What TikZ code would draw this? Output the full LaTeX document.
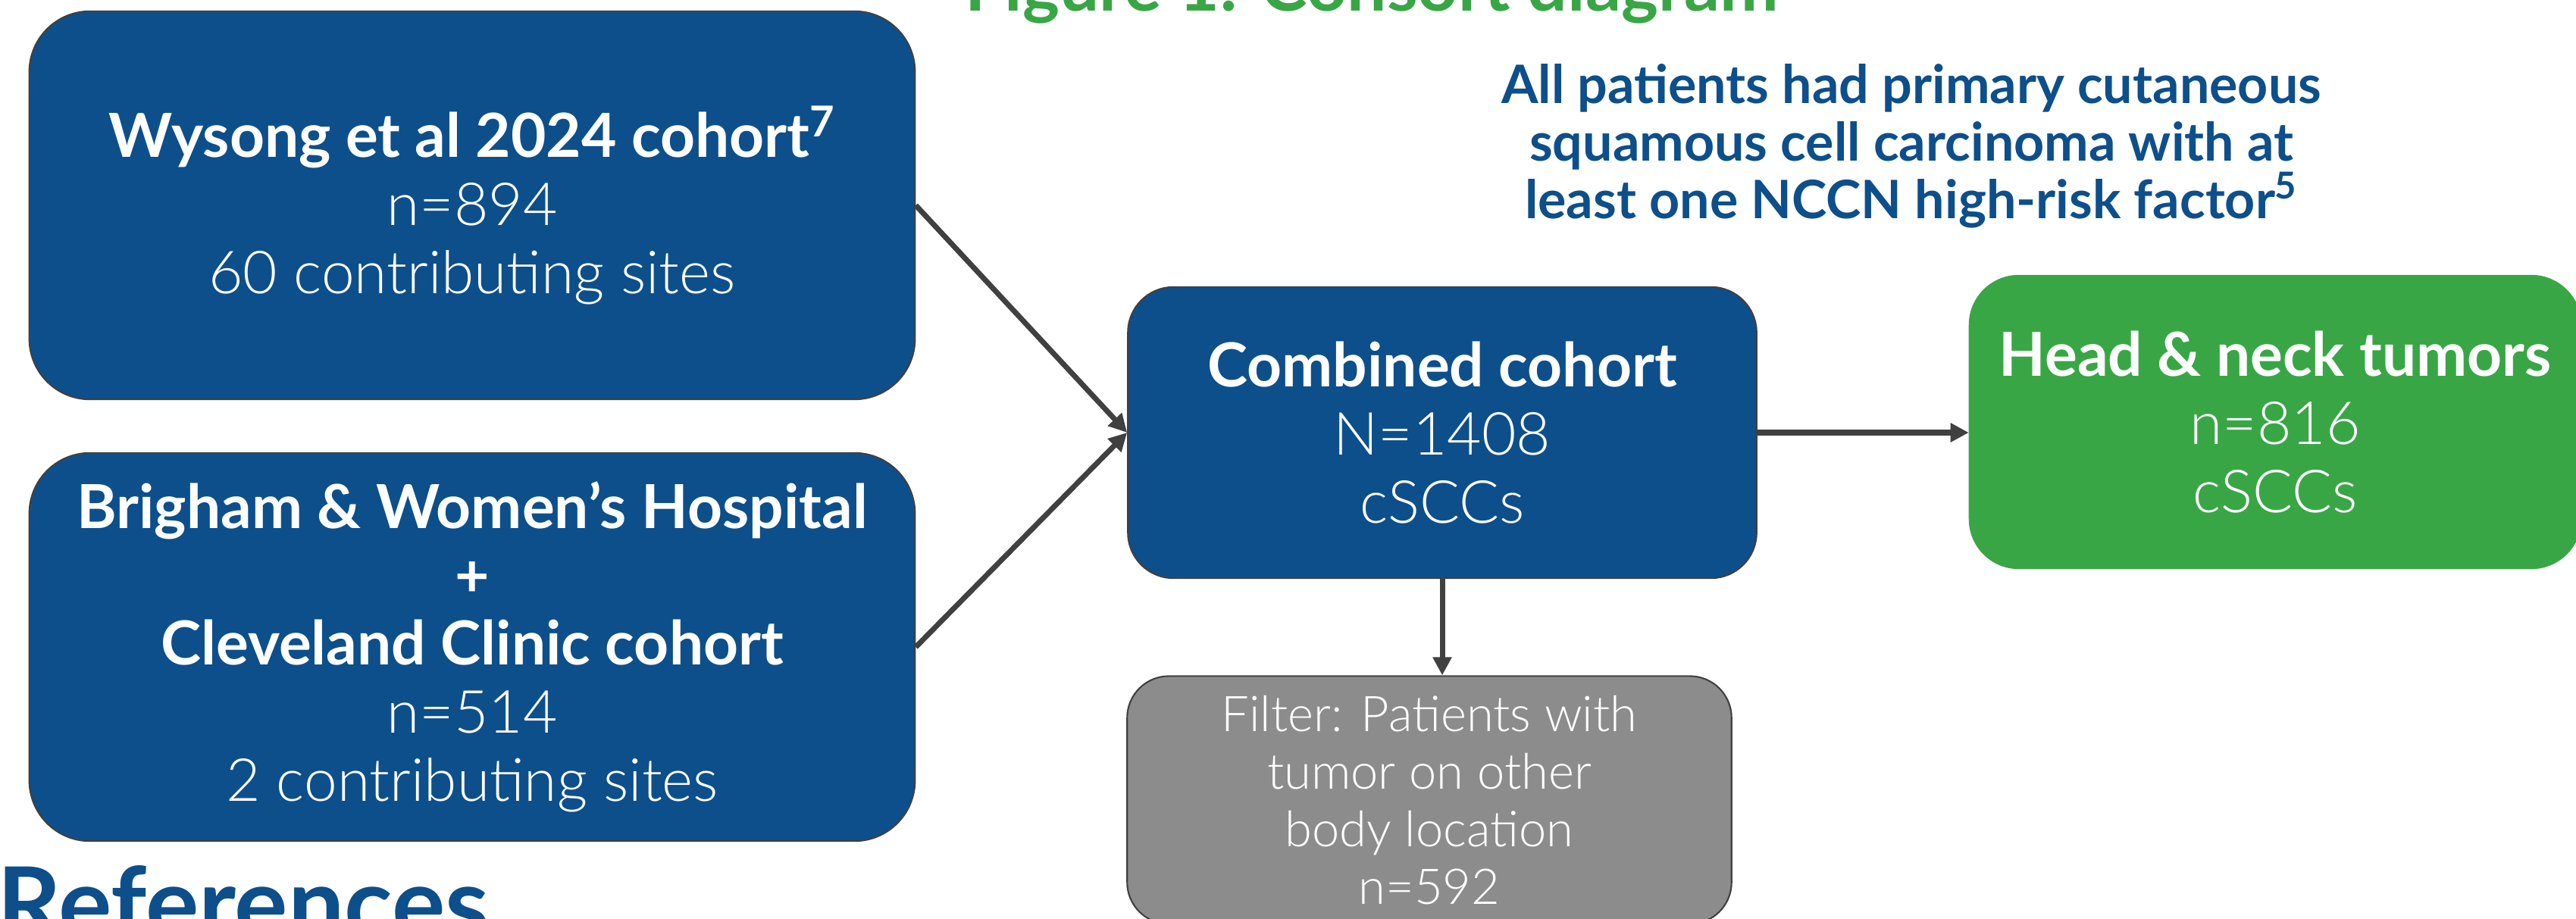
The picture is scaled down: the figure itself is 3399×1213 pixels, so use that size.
\documentclass[tikz,border=0pt]{standalone}
\usepackage{fontspec}
\setmainfont{Lato}
\newfontfamily\thinfont{Lato Light}
\usetikzlibrary{arrows.meta}

\definecolor{nccnblue}{RGB}{13,79,139}
\definecolor{nccngreen}{RGB}{57,166,70}
\definecolor{filtergray}{RGB}{140,140,140}
\definecolor{edgegray}{RGB}{64,64,64}

\begin{document}
\begin{tikzpicture}[x=0.01cm, y=-0.01cm,
    >={Triangle[length=0.24cm,width=0.24cm]},
    cohort/.style={rectangle, rounded corners=0.8cm, draw=edgegray, line width=0.6pt, fill=nccnblue,
      text=white, align=center, inner sep=0pt, font=\fontsize{22.3}{25.6}\selectfont},
    head/.style={font=\bfseries\fontsize{22.8}{25.6}\selectfont},
    flow/.style={->, line width=2pt, edgegray}]

\useasboundingbox (0,0) rectangle (3399,1213);
\clip (0,0) rectangle (3399,1213);

% Headings
  \node[anchor=base, text=nccngreen, font=\bfseries\fontsize{26.4}{30}\selectfont] (title) at (1810,15) {Figure 1: Consort diagram};
  \node[anchor=base west, inner sep=0pt, text=nccnblue, font=\bfseries\fontsize{37.5}{44}\selectfont] (refs) at (-4,1239) {References};
  \node[anchor=north, inner sep=0pt, align=center, text=nccnblue, font=\bfseries\fontsize{19.9}{21.6}\selectfont] (note) at (2522,84)
    {All patients had primary cutaneous\\ squamous cell carcinoma with at\\ least one NCCN high-risk factor\textsuperscript{5}};

% Boxes
  \node[cohort, minimum width=11.68cm, minimum height=5.12cm] (wysong) at (623,271)
    {{\bfseries\fontsize{22.8}{25.6}\selectfont Wysong et al 2024 cohort\textsuperscript{7}}\\ {\thinfont n=894}\\ {\thinfont 60 contributing sites}};
  \node[cohort, minimum width=11.68cm, minimum height=5.12cm] (brigham) at (623,854)
    {{\bfseries\fontsize{22.8}{25.6}\selectfont Brigham \& Women’s Hospital}\\ {\bfseries +}\\ {\bfseries\fontsize{22.8}{25.6}\selectfont Cleveland Clinic cohort}\\ {\thinfont n=514}\\ {\thinfont 2 contributing sites}};
  \node[cohort, rounded corners=0.6cm, minimum width=8.29cm, minimum height=3.84cm] (comb) at (1903,571)
    {{\bfseries\fontsize{22.8}{25.6}\selectfont Combined cohort}\\ {\thinfont N=1408}\\ {\thinfont cSCCs}};
  \node[cohort, fill=nccngreen, draw=nccngreen, rounded corners=0.65cm, minimum width=8.06cm, minimum height=3.86cm] (headneck) at (3002,557)
    {{\bfseries\fontsize{22.8}{25.6}\selectfont Head \& neck tumors}\\ {\thinfont n=816}\\ {\thinfont cSCCs}};
  \node[cohort, fill=filtergray, rounded corners=0.55cm, minimum width=7.97cm, minimum height=3.27cm,
    font=\thinfont\fontsize{18.5}{21.6}\selectfont] (filter) at (1886,1056)
    {Filter: Patients with\\ tumor on other\\ body location\\ n=592};

% Arrows
  \foreach \src in {wysong,brigham}
  \draw[flow] (\src.east) -- (comb.west);
  \draw[flow] (comb.east) -- (comb.east -| headneck.west);
  \draw[flow] (comb.south) -- (comb.south |- filter.north);

\end{tikzpicture}
\end{document}
